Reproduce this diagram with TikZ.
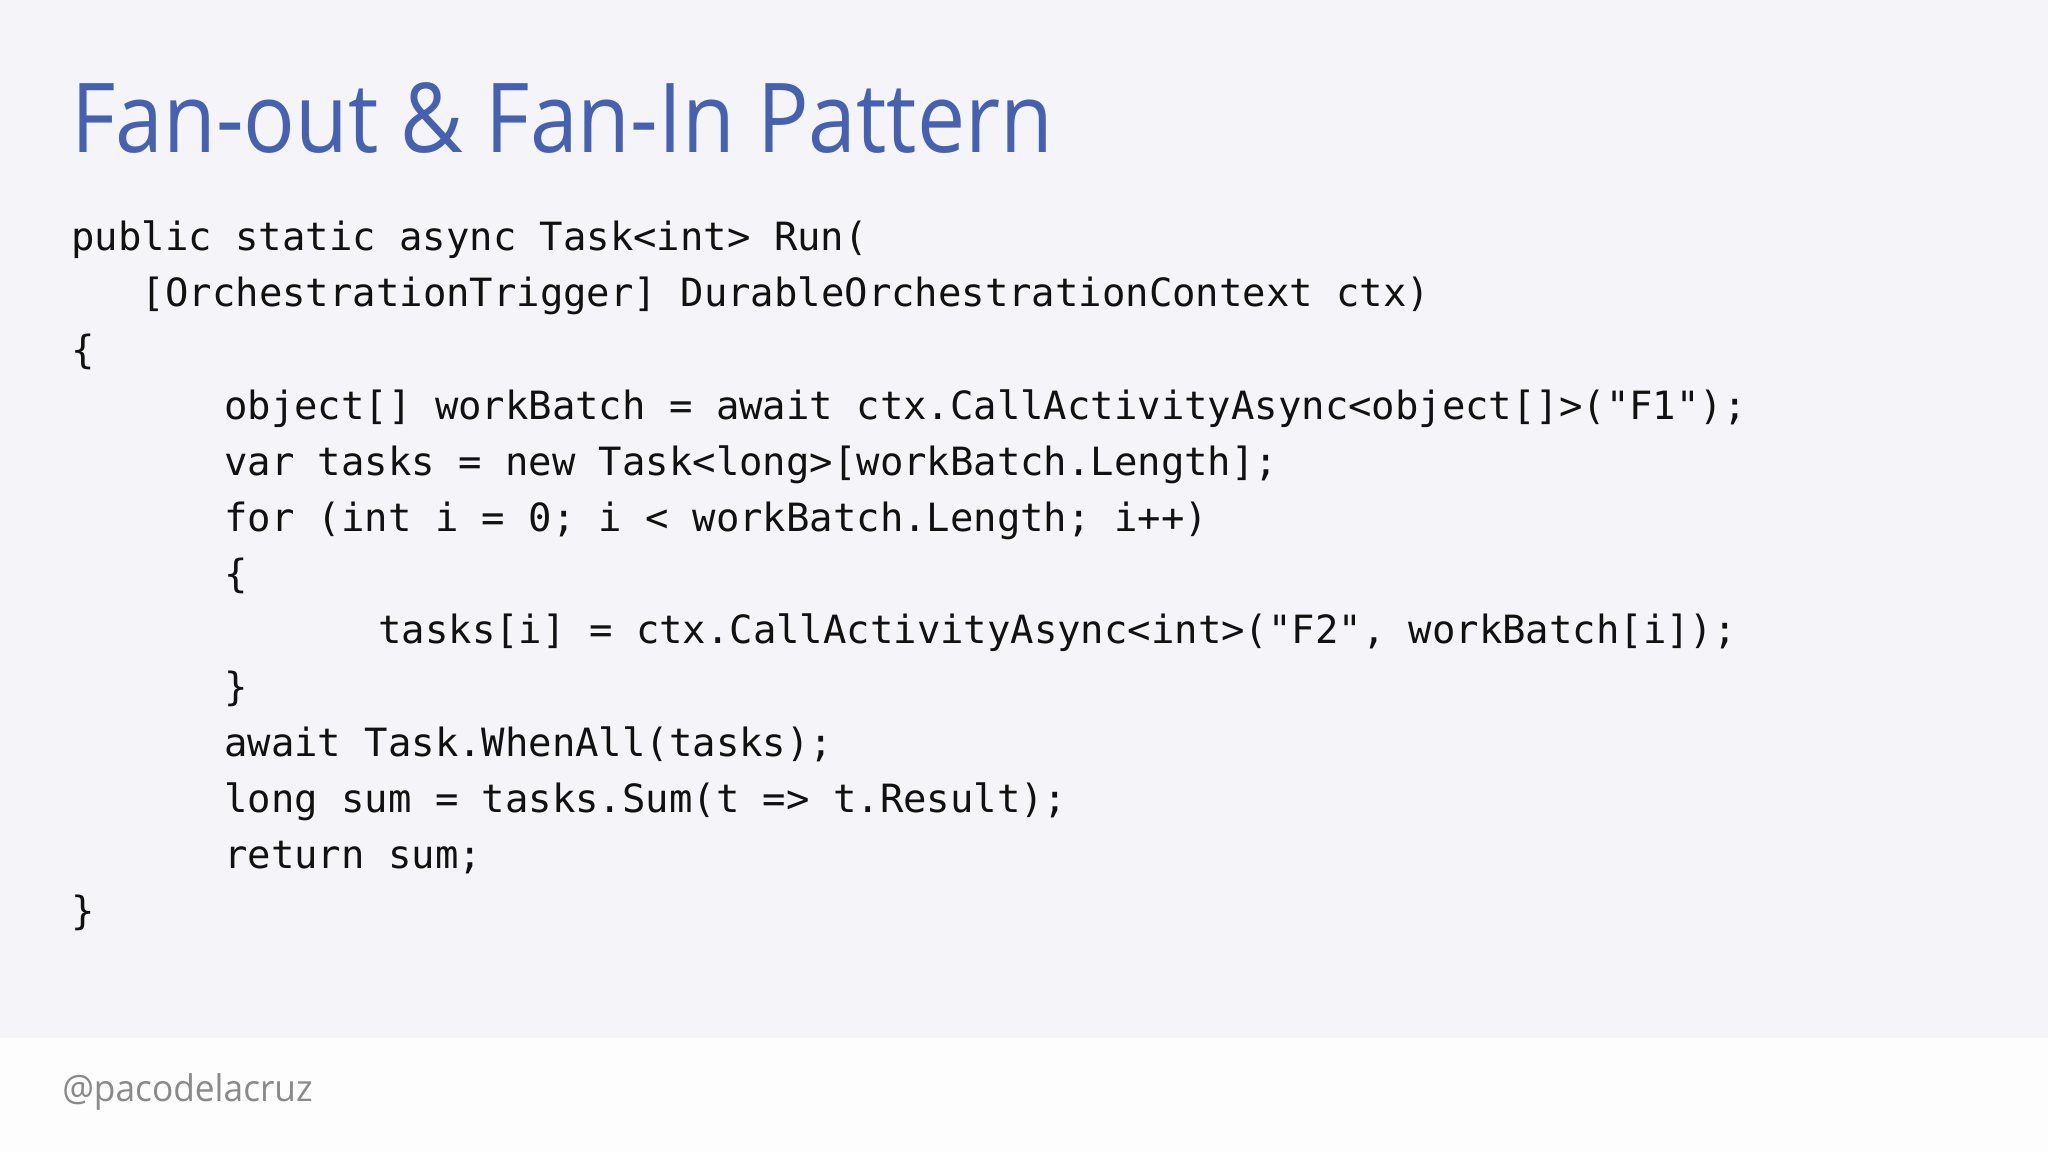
\documentclass[tikz,border=0pt]{standalone}
\usepackage{fontspec}
\setmainfont{Open Sans}
\setmonofont{DejaVu Sans Mono}
\definecolor{bgtop}{HTML}{F5F4F8}
\definecolor{bgbot}{HTML}{FDFDFE}
\definecolor{titleblue}{HTML}{4561B0}
\definecolor{footgray}{HTML}{8A8A8A}
\definecolor{codeblack}{HTML}{111111}
\begin{document}
\begin{tikzpicture}[x=0.01cm,y=-0.01cm,
  codeline/.style={anchor=base west,inner sep=0pt,font=\fontsize{8.47pt}{10pt}\ttfamily,text=codeblack}]
\useasboundingbox (0,0) rectangle (1568,882);
\fill[bgtop] (0,0) rectangle (1568,795);
\fill[bgbot] (0,795) rectangle (1568,882);
\node[anchor=base west,inner sep=0pt,text=titleblue,font=\fontsize{21pt}{24pt}\selectfont,xscale=0.89] (title) at (54,117) {Fan-out \& Fan-In Pattern};
\node[codeline] (l1) at (54,192) {public static async Task<int> Run(};
\node[codeline] (l2) at (108,235) {[OrchestrationTrigger] DurableOrchestrationContext ctx)};
\node[codeline] (l3) at (54,278) {\{};
\node[codeline] (l4) at (171,321) {object[] workBatch = await ctx.CallActivityAsync<object[]>("F1");};
\node[codeline] (l5) at (171,364) {var tasks = new Task<long>[workBatch.Length];};
\node[codeline] (l6) at (171,407) {for (int i = 0; i < workBatch.Length; i++)};
\node[codeline] (l7) at (171,450) {\{};
\node[codeline] (l8) at (289,493) {tasks[i] = ctx.CallActivityAsync<int>("F2", workBatch[i]);};
\node[codeline] (l9) at (171,536) {\}};
\node[codeline] (l10) at (171,579) {await Task.WhenAll(tasks);};
\node[codeline] (l11) at (171,622) {long sum = tasks.Sum(t => t.Result);};
\node[codeline] (l12) at (171,665) {return sum;};
\node[codeline] (l13) at (54,708) {\}};
\node[anchor=base west,inner sep=0pt,text=footgray,font=\fontsize{8pt}{10pt}\selectfont,xscale=0.96] (foot) at (47,843) {@pacodelacruz};
\end{tikzpicture}
\end{document}
